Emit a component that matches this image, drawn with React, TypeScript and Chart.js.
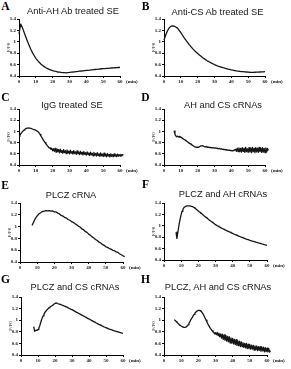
import React, { useEffect, useRef } from 'react';
import { Chart, registerables } from 'chart.js';

Chart.register(...registerables);

// Axis ticks shared by every panel
const timeTicks = [0, 10, 20, 30, 40, 50, 60];
const ratioTicks = [0.4, 0.6, 0.8, 1, 1.2, 1.4];

const panelLetters = ['A', 'B', 'C', 'D', 'E', 'F', 'G', 'H'];
const panelTitles = [
  'Anti-AH Ab treated SE',
  'Anti-CS Ab treated SE',
  'IgG treated SE',
  'AH and CS cRNAs',
  'PLCZ cRNA',
  'PLCZ and AH cRNAs',
  'PLCZ and CS cRNAs',
  'PLCZ, AH and CS cRNAs',
];

// First sample time (min) and sampling interval (min) of each recording
const sampleStart = [0, 0, 0, 6, 7, 7, 7.5, 6];
const sampleStep = [1, 1, 0.5, 0.5, 1, 0.5, 0.5, 0.5];

// F/F0 traces
const ratioA = [
  1.14, 1.31, 1.25, 1.17, 1.09, 1.01, 0.94, 0.87, 0.81, 0.76, 0.71,
  0.675, 0.64, 0.61, 0.585, 0.565, 0.545, 0.53, 0.515, 0.505, 0.495,
  0.485, 0.48, 0.47, 0.468, 0.462, 0.458, 0.46, 0.455, 0.46, 0.462,
  0.468, 0.47, 0.474, 0.478, 0.48, 0.484, 0.488, 0.49, 0.494, 0.497,
  0.5, 0.503, 0.508, 0.51, 0.514, 0.518, 0.52, 0.523, 0.527, 0.528,
  0.53, 0.534, 0.535, 0.538, 0.54, 0.542, 0.545, 0.546, 0.549, 0.552,
];

const ratioB = [
  1.03, 1.12, 1.19, 1.24, 1.27, 1.28, 1.275, 1.26, 1.24, 1.2, 1.16,
  1.115, 1.07, 1.03, 0.99, 0.95, 0.915, 0.88, 0.85, 0.82, 0.795,
  0.77, 0.745, 0.72, 0.7, 0.68, 0.66, 0.645, 0.63, 0.615, 0.6,
  0.588, 0.575, 0.565, 0.555, 0.545, 0.537, 0.53, 0.522, 0.515, 0.508,
  0.502, 0.496, 0.49, 0.486, 0.482, 0.478, 0.475, 0.472, 0.47, 0.468,
  0.466, 0.465, 0.465, 0.466, 0.467, 0.468, 0.47, 0.471, 0.473, 0.475,
];

const ratioC = [
  0.91, 0.93, 0.955, 0.975, 0.995, 1.01, 1.025, 1.038, 1.048, 1.055,
  1.06, 1.062, 1.06, 1.057, 1.053, 1.048, 1.043, 1.037, 1.032, 1.027,
  1.02, 1.012, 1.0, 0.99, 0.97, 0.945, 0.92, 0.895, 0.87, 0.845,
  0.82, 0.8, 0.775, 0.76, 0.735, 0.725, 0.7, 0.705, 0.68, 0.695,
  0.655, 0.69, 0.645, 0.7, 0.63, 0.69, 0.64, 0.675, 0.615, 0.685,
  0.625, 0.66, 0.61, 0.675, 0.62, 0.655, 0.605, 0.67, 0.615, 0.645,
  0.6, 0.665, 0.61, 0.64, 0.595, 0.655, 0.605, 0.635, 0.59, 0.65,
  0.6, 0.63, 0.585, 0.645, 0.595, 0.625, 0.58, 0.64, 0.59, 0.62,
  0.575, 0.635, 0.585, 0.615, 0.57, 0.63, 0.58, 0.61, 0.565, 0.625,
  0.575, 0.605, 0.56, 0.62, 0.57, 0.6, 0.555, 0.615, 0.565, 0.595,
  0.55, 0.61, 0.56, 0.59, 0.548, 0.605, 0.558, 0.588, 0.545, 0.6,
  0.555, 0.585, 0.548, 0.598, 0.556, 0.582, 0.55, 0.595, 0.558, 0.585,
  0.56, 0.59, 0.565, 0.585, 0.575,
];

const ratioD = [
  1.01, 0.95, 0.92, 0.905, 0.915, 0.9, 0.91, 0.895, 0.9, 0.885,
  0.875, 0.865, 0.855, 0.845, 0.835, 0.825, 0.815, 0.8, 0.79, 0.78,
  0.77, 0.76, 0.75, 0.74, 0.73, 0.725, 0.72, 0.715, 0.72, 0.715,
  0.725, 0.735, 0.74, 0.745, 0.74, 0.735, 0.73, 0.725, 0.73, 0.72,
  0.715, 0.72, 0.71, 0.715, 0.71, 0.705, 0.71, 0.705, 0.7, 0.705,
  0.7, 0.695, 0.7, 0.69, 0.695, 0.685, 0.69, 0.68, 0.685, 0.675,
  0.68, 0.67, 0.675, 0.665, 0.67, 0.66, 0.665, 0.655, 0.66, 0.65,
  0.66, 0.655, 0.67, 0.68, 0.645, 0.7, 0.64, 0.705, 0.64, 0.695,
  0.63, 0.71, 0.645, 0.7, 0.625, 0.715, 0.64, 0.69, 0.625, 0.71,
  0.635, 0.7, 0.62, 0.715, 0.64, 0.695, 0.62, 0.71, 0.635, 0.7,
  0.625, 0.715, 0.64, 0.7, 0.625, 0.71, 0.63, 0.695, 0.62, 0.705,
  0.635, 0.695, 0.66,
];

const ratioE = [
  1.02, 1.08, 1.14, 1.18, 1.215, 1.235, 1.255, 1.26, 1.27, 1.265,
  1.272, 1.262, 1.265, 1.25, 1.248, 1.228, 1.215, 1.19, 1.178, 1.155,
  1.145, 1.12, 1.108, 1.085, 1.073, 1.048, 1.033, 1.008, 0.993, 0.962,
  0.948, 0.918, 0.902, 0.872, 0.852, 0.826, 0.808, 0.782, 0.765, 0.738,
  0.722, 0.698, 0.682, 0.658, 0.648, 0.628, 0.618, 0.598, 0.592, 0.572,
  0.562, 0.54, 0.522, 0.505, 0.492,
];

const ratioF = [
  0.89, 0.78, 0.87, 0.97, 1.06, 1.13, 1.2, 1.255, 1.29, 1.315,
  1.33, 1.34, 1.345, 1.35, 1.35, 1.35, 1.348, 1.345, 1.34, 1.335,
  1.33, 1.32, 1.31, 1.297, 1.285, 1.272, 1.26, 1.247, 1.235, 1.222,
  1.21, 1.197, 1.185, 1.172, 1.16, 1.147, 1.135, 1.123, 1.111, 1.099,
  1.088, 1.077, 1.066, 1.055, 1.044, 1.032, 1.02, 1.011, 1.002, 0.993,
  0.984, 0.976, 0.968, 0.96, 0.952, 0.944, 0.936, 0.929, 0.922, 0.915,
  0.908, 0.901, 0.894, 0.887, 0.88, 0.873, 0.866, 0.859, 0.852, 0.846,
  0.84, 0.833, 0.827, 0.82, 0.814, 0.808, 0.801, 0.795, 0.79, 0.784,
  0.778, 0.772, 0.767, 0.761, 0.756, 0.751, 0.745, 0.74, 0.735, 0.731,
  0.726, 0.721, 0.717, 0.712, 0.708, 0.703, 0.699, 0.694, 0.69, 0.686,
  0.681, 0.677, 0.673, 0.668, 0.664, 0.66, 0.656,
];

const ratioG = [
  0.89, 0.81, 0.82, 0.83, 0.825, 0.84, 0.865, 0.9, 0.95, 1.0,
  1.04, 1.075, 1.105, 1.13, 1.15, 1.17, 1.185, 1.2, 1.213, 1.225,
  1.235, 1.245, 1.255, 1.265, 1.278, 1.29, 1.3, 1.295, 1.288, 1.282,
  1.277, 1.272, 1.267, 1.262, 1.256, 1.25, 1.244, 1.237, 1.23, 1.223,
  1.216, 1.209, 1.202, 1.195, 1.187, 1.18, 1.172, 1.164, 1.156, 1.148,
  1.14, 1.132, 1.124, 1.116, 1.108, 1.1, 1.092, 1.084, 1.076, 1.068,
  1.06, 1.052, 1.044, 1.036, 1.028, 1.02, 1.012, 1.004, 0.996, 0.988,
  0.98, 0.972, 0.964, 0.956, 0.948, 0.94, 0.932, 0.925, 0.918, 0.911,
  0.904, 0.897, 0.89, 0.883, 0.877, 0.87, 0.864, 0.858, 0.852, 0.846,
  0.841, 0.836, 0.831, 0.826, 0.821, 0.816, 0.811, 0.806, 0.801, 0.797,
  0.793, 0.789, 0.785, 0.781, 0.776, 0.772,
];

const ratioH = [
  1.01, 0.995, 0.98, 0.965, 0.95, 0.935, 0.92, 0.91, 0.9, 0.89,
  0.882, 0.877, 0.875, 0.878, 0.885, 0.9, 0.92, 0.945, 0.97, 1.0,
  1.025, 1.05, 1.075, 1.1, 1.12, 1.138, 1.152, 1.162, 1.168, 1.17,
  1.165, 1.155, 1.14, 1.12, 1.095, 1.065, 1.035, 1.0, 0.97, 0.94,
  0.91, 0.885, 0.86, 0.84, 0.82, 0.8, 0.79, 0.765, 0.785, 0.75,
  0.79, 0.735, 0.775, 0.715, 0.765, 0.69, 0.76, 0.67, 0.745, 0.655,
  0.74, 0.64, 0.72, 0.625, 0.715, 0.61, 0.695, 0.605, 0.685, 0.59,
  0.67, 0.58, 0.665, 0.565, 0.645, 0.56, 0.64, 0.545, 0.625, 0.545,
  0.615, 0.53, 0.6, 0.525, 0.6, 0.51, 0.585, 0.51, 0.58, 0.5,
  0.57, 0.5, 0.565, 0.485, 0.555, 0.49, 0.555, 0.475, 0.545, 0.48,
  0.545, 0.465, 0.535, 0.47, 0.535, 0.455, 0.525, 0.46, 0.52, 0.455,
  0.515, 0.45, 0.475,
];

const ratioSeries = [ratioA, ratioB, ratioC, ratioD, ratioE, ratioF, ratioG, ratioH];

// Page placement: plot area [left, top, right, bottom], title centre, letter centre
const frames = [
  { area: [19, 19, 120, 76], title: [73, 12.2], letter: [5.5, 6.5] },
  { area: [164, 19, 265, 76], title: [217.5, 12.5], letter: [145.5, 6.5] },
  { area: [19, 109, 120, 165], title: [72, 105.5], letter: [5.5, 97.5] },
  { area: [164, 109, 265, 165], title: [223, 105.5], letter: [145.5, 97.5] },
  { area: [20, 203, 123, 262], title: [71, 196], letter: [5, 186] },
  { area: [164, 203, 267, 260], title: [223, 195], letter: [145.5, 184.5] },
  { area: [21, 297, 123, 355], title: [75, 288], letter: [5.5, 280] },
  { area: [164, 297, 267, 355], title: [218, 287.5], letter: [145.5, 279.5] },
];

const Y_AXIS_W = 16;
const X_AXIS_H = 11;
const PAD_TOP = 6;
const PAD_RIGHT = 22;
const TICK_FONT = { family: '"Liberation Serif", serif', size: 5, weight: 'bold' as const };
const INK = '#161616';

// Writes the "(min)" unit next to the last time tick
const minuteUnit = {
  id: 'minuteUnit',
  afterDraw(chart: any) {
    const { ctx, chartArea } = chart;
    const xScale = chart.scales.x;
    ctx.save();
    ctx.font = `bold ${TICK_FONT.size}px "Liberation Serif", serif`;
    ctx.fillStyle = INK;
    ctx.textAlign = 'left';
    ctx.textBaseline = 'middle';
    const last = timeTicks[timeTicks.length - 1];
    ctx.fillText('(min)', xScale.getPixelForValue(last) + 6, chartArea.bottom + 5.5);
    ctx.restore();
  },
};

function TracePanel({ index }: { index: number }) {
  const ref = useRef<HTMLCanvasElement>(null);
  const frame = frames[index];
  const [left, top, right, bottom] = frame.area;
  const cw = right - left + Y_AXIS_W + PAD_RIGHT;
  const ch = bottom - top + PAD_TOP + X_AXIS_H;

  useEffect(() => {
    const values = ratioSeries[index];
    const start = sampleStart[index];
    const step = sampleStep[index];
    const points = values.map((v, i) => ({ x: start + i * step, y: v }));

    const chart = new Chart(ref.current as HTMLCanvasElement, {
      type: 'line',
      data: {
        datasets: [
          {
            data: points,
            borderColor: INK,
            borderWidth: 1.3,
            pointRadius: 0,
            tension: 0,
            clip: false as any,
            borderJoinStyle: 'round',
          },
        ],
      },
      options: {
        animation: false,
        responsive: false,
        maintainAspectRatio: false,
        devicePixelRatio: 1,
        events: [],
        layout: { padding: { top: PAD_TOP, right: PAD_RIGHT, left: 0, bottom: 0 } },
        plugins: { legend: { display: false }, tooltip: { enabled: false }, title: { display: false } },
        scales: {
          x: {
            type: 'linear',
            bounds: 'data',
            afterDataLimits: (s: any) => {
              s.min = timeTicks[0];
              s.max = timeTicks[timeTicks.length - 1];
            },
            afterBuildTicks: (s: any) => {
              s.ticks = timeTicks.map((value) => ({ value }));
            },
            afterFit: (s: any) => {
              s.height = X_AXIS_H;
            },
            ticks: { font: TICK_FONT, color: INK, padding: 1, stepSize: 10, maxRotation: 0, autoSkip: false, callback: (v: any) => String(v) },
            grid: { drawOnChartArea: false, drawTicks: true, tickLength: 2, color: '#000', lineWidth: 1 },
            border: { display: true, color: '#000', width: 1 },
          },
          y: {
            type: 'linear',
            min: ratioTicks[0],
            max: ratioTicks[ratioTicks.length - 1],
            afterBuildTicks: (s: any) => {
              s.ticks = ratioTicks.map((value) => ({ value }));
            },
            afterFit: (s: any) => {
              s.width = Y_AXIS_W;
            },
            ticks: { font: TICK_FONT, color: INK, padding: 1, stepSize: 0.2, autoSkip: false, callback: (v: any) => String(v) },
            grid: { drawOnChartArea: false, drawTicks: true, tickLength: 2, color: '#000', lineWidth: 1 },
            border: { display: true, color: '#000', width: 1 },
            title: {
              display: true,
              text: 'F/F0',
              color: INK,
              font: { family: '"Liberation Serif", serif', size: 5 },
              padding: { top: 3, bottom: 0 },
            },
          },
        },
      },
      plugins: [minuteUnit],
    } as any);
    return () => chart.destroy();
  }, [index]);

  return (
    <>
      <canvas
        ref={ref}
        width={cw}
        height={ch}
        style={{ position: 'absolute', left: left - Y_AXIS_W, top: top - PAD_TOP, width: cw, height: ch }}
      />
      <div
        style={{
          position: 'absolute',
          left: frame.letter[0],
          top: frame.letter[1],
          transform: 'translate(-50%, -50%)',
          font: 'bold 11.5px "Liberation Serif", serif',
          lineHeight: 1,
          color: '#000',
        }}
      >
        {panelLetters[index]}
      </div>
      <div
        style={{
          position: 'absolute',
          left: frame.title[0],
          top: frame.title[1],
          transform: 'translate(-50%, -50%)',
          font: '9.3px "Liberation Sans", Arial, sans-serif',
          lineHeight: 1,
          whiteSpace: 'nowrap',
          color: INK,
        }}
      >
        {panelTitles[index]}
      </div>
    </>
  );
}

export default function App() {
  return (
    <div
      style={{
        position: 'fixed',
        left: 0,
        top: 0,
        width: 291,
        height: 369,
        background: '#fff',
        overflow: 'hidden',
      }}
    >
      {frames.map((_, i) => (
        <TracePanel key={i} index={i} />
      ))}
    </div>
  );
}
